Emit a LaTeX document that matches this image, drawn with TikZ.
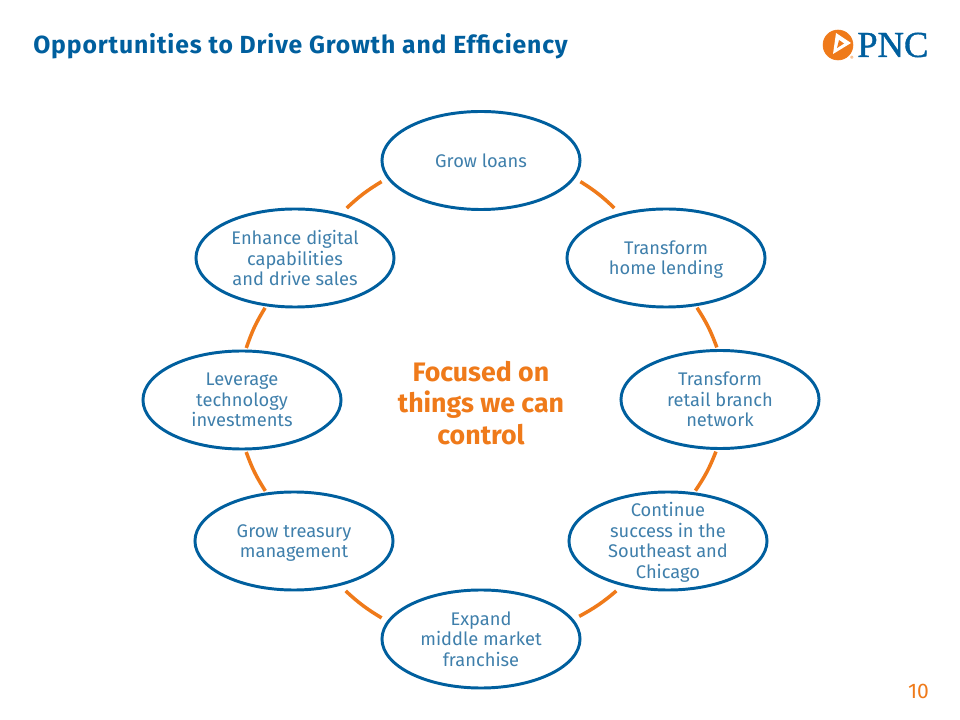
\documentclass[tikz,border=0pt]{standalone}
\usepackage{fontspec}
\setmainfont{Fira Sans}
\usetikzlibrary{shapes.geometric}
\newfontfamily\logofont[FakeBold=1]{Liberation Serif}
\newfontfamily\titlefont[LetterSpace=3.5]{Fira Sans}
\definecolor{pncblue}{HTML}{005F9E}
\definecolor{pnctext}{HTML}{3F7FAB}
\definecolor{pncorange}{HTML}{EF7A1A}
\newcommand{\lowfirst}{\rule{0pt}{11.9pt}}
\tikzset{
  goal/.style={ellipse,draw=pncblue,line width=2.1pt,inner sep=-1cm,outer sep=0.2cm,
    minimum width=4.95cm,minimum height=2.45cm,align=center,text=pnctext,
    font=\fontsize{13}{14.5}\selectfont},
  linkarc/.style={draw=pncorange,line width=2.5pt}
}
\begin{document}
\begin{tikzpicture}[x=0.025cm,y=-0.025cm]
  \useasboundingbox (0,0) rectangle (960,720);
  \node[anchor=west,inner sep=0pt,text=pncblue,font=\fontsize{17.6}{20}\titlefont\bfseries] (title) at (33,46)
    {Opportunities to Drive Growth and Efficiency};
  % logo
  \filldraw[fill=pncorange,draw=pncorange] (838,45) circle (15);
  \fill[white] (836,33) -- (851,43) -- (833,54) -- cycle;
  \fill[pncorange] (839,40) -- (844,43.5) -- (837,48) -- cycle;
  \node[anchor=west,text=pncblue,inner sep=0pt,font=\fontsize{26}{26}\logofont] (logotext) at (857,45) {PNC};
  \node[text=pncorange,inner sep=0pt,font=\fontsize{4}{4}\selectfont] (logomark) at (852,58) {®};
  % ring
  \node[goal] (loans) at (481,160.5) {Grow loans};
  \node[goal] (home) at (666,258) {\lowfirst Transform\\home lending};
  \node[goal] (retail) at (720,399.5) {Transform\\retail branch\\network};
  \node[goal] (southeast) at (668,541) {\lowfirst Continue\\success in the\\Southeast and\\Chicago};
  \node[goal] (middle) at (481,639) {Expand\\middle market\\franchise};
  \node[goal] (treasury) at (294,541) {\lowfirst Grow treasury\\management};
  \node[goal] (leverage) at (242,400) {Leverage\\technology\\investments};
  \node[goal] (digital) at (295,258) {Enhance digital\\capabilities\\and drive sales};
  \foreach \a/\b/\c/\d/\e in {loans/-12.5/home/136/0,home/-58.5/retail/95/-0.13,retail/-96/southeast/61/-0.13,
      southeast/224/middle/13/0,middle/168/treasury/-44/0,treasury/120/leverage/-84/-0.13,
      leverage/84/digital/239/-0.13,digital/44/loans/192.5/0}
    {\draw[linkarc,shorten <=\e cm,shorten >=\e cm] (\a.\b) to[bend left=6] (\c.\d);}
  \node[align=center,text=pncorange,font=\fontsize{19}{22.6}\selectfont\bfseries] (focus) at (481,403)
    {Focused on\\things we can\\control};
  \node[text=pncorange,inner sep=0pt,font=\fontsize{15}{15}\selectfont] (page) at (918.5,691) {10};
\end{tikzpicture}
\end{document}
